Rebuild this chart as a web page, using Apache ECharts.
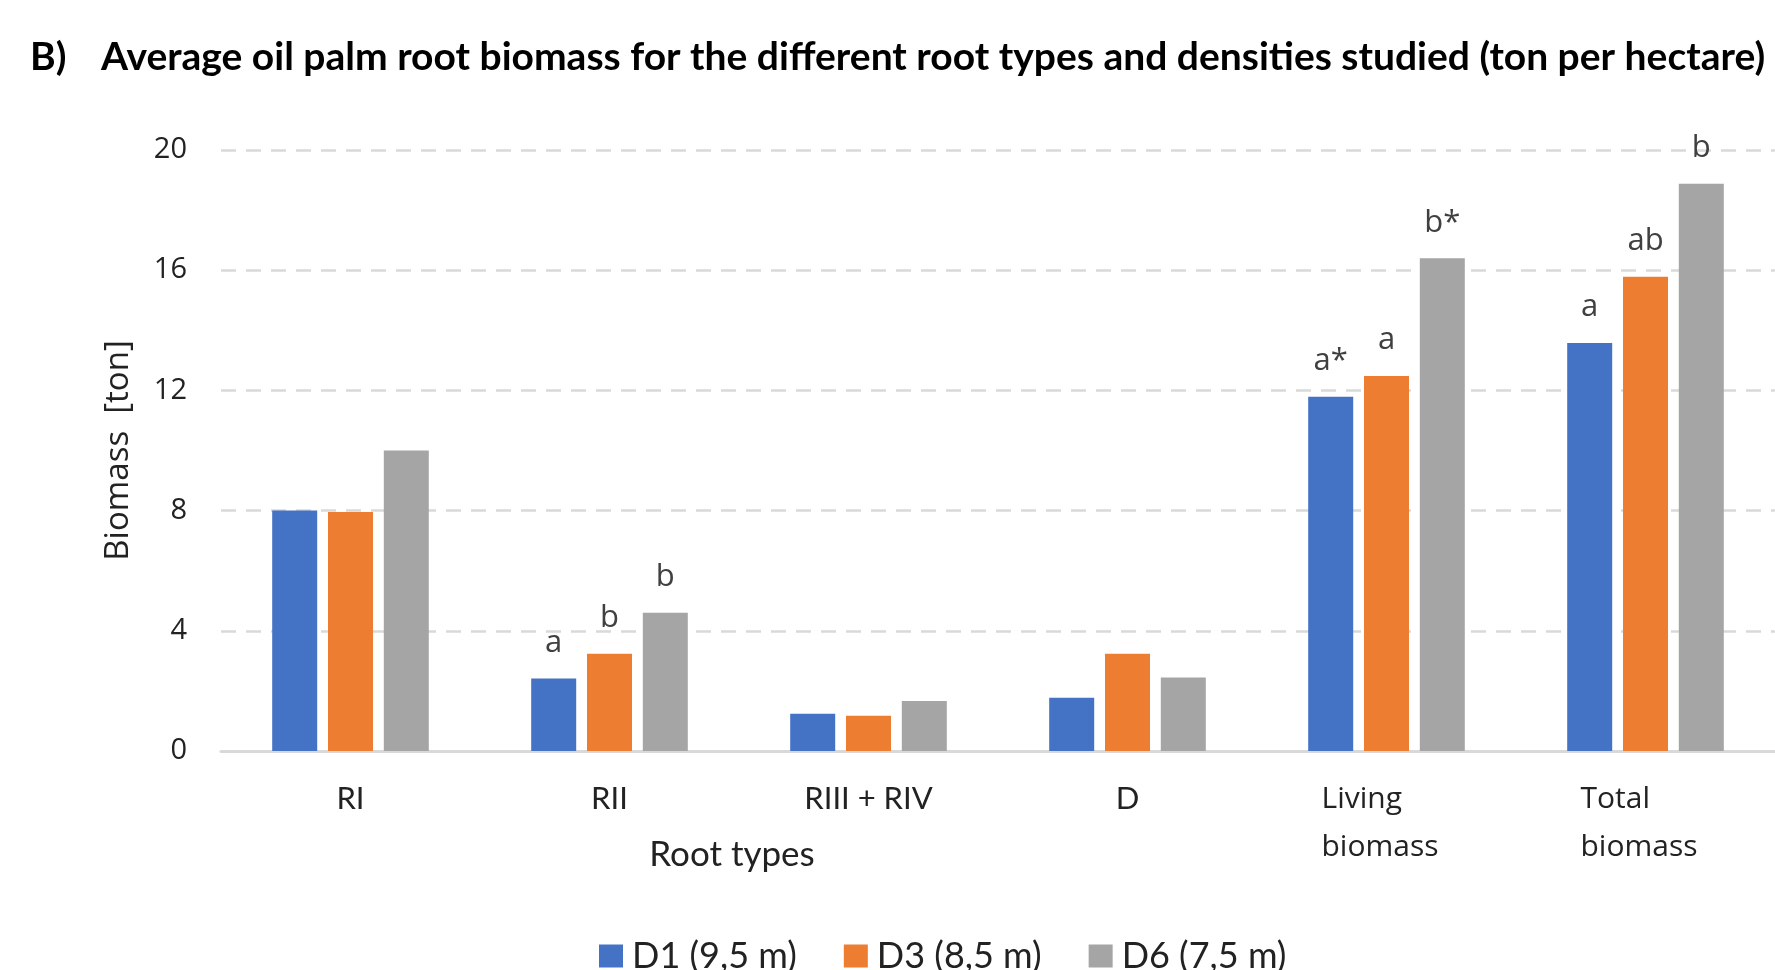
<!DOCTYPE html>
<html>
<head>
<meta charset="utf-8">
<title>Oil palm root biomass</title>
<script src="https://cdn.jsdelivr.net/npm/echarts@6/dist/echarts.min.js"></script>
<style>
  html, body { margin: 0; padding: 0; background: #fff; }
  #chart { width: 1775px; height: 970px; }
</style>
</head>
<body>
<div id="chart"></div>
<script>
// root types on the x axis
const categories = ['RI', 'RII', 'RIII + RIV', 'D', 'Living\nbiomass', 'Total\nbiomass'];
const seriesNames = ['D1 (9,5 m)', 'D3 (8,5 m)', 'D6 (7,5 m)'];

// biomass, ton per hectare
const d1Values = [8.0, 2.41, 1.24, 1.77, 11.79, 13.58];
const d3Values = [7.95, 3.24, 1.17, 3.24, 12.48, 15.78];
const d6Values = [10.0, 4.6, 1.66, 2.45, 16.4, 18.88];

// significance letters above the bars
const d1Letters = ['', 'a', '', '', 'a*', 'a'];
const d3Letters = ['', 'b', '', '', 'a', 'ab'];
const d6Letters = ['', 'b', '', '', 'b*', 'b'];

const yTicks = [0, 4, 8, 12, 16, 20];

const colors = ['#4472C4', '#ED7D31', '#A5A5A5'];
const calibriLike = 'Lato, "Open Sans", sans-serif';
const segoeLike = '"Open Sans", "Noto Sans", sans-serif';

function makeSeries(name, values, letters, color) {
    return {
        name: name,
        type: 'bar',
        barWidth: 45,
        barGap: '24%',
        data: values,
        itemStyle: { color: color },
        label: {
            show: true,
            position: 'top',
            distance: 20,
            fontFamily: segoeLike,
            fontSize: 31,
            color: '#404040',
            formatter: function (p) { return letters[p.dataIndex]; }
        }
    };
}

const chart = echarts.init(document.getElementById('chart'));
chart.setOption({
    animation: false,
    title: {
        left: 25,
        top: 33,
        text: '{b|B)}{t|Average oil palm root biomass for the different root types and densities studied (ton per hectare)}',
        textStyle: {
            rich: {
                b: { fontFamily: calibriLike, fontWeight: 'bold', fontSize: 39, color: '#000', width: 71 },
                t: { fontFamily: calibriLike, fontWeight: 'bold', fontSize: 39, color: '#000' }
            }
        }
    },
    legend: {
        data: seriesNames,
        left: 594,
        top: 933,
        icon: 'rect',
        itemWidth: 24,
        itemHeight: 23,
        itemGap: 47,
        textStyle: {
            fontFamily: calibriLike,
            fontSize: 36,
            color: '#222',
            padding: [0, 0, 0, 4]
        }
    },
    grid: {
        left: 221,
        top: 150,
        width: 1560,
        height: 601,
        containLabel: false
    },
    xAxis: {
        type: 'category',
        data: categories,
        axisLine: { lineStyle: { color: '#D9D9D9', width: 3 } },
        axisTick: { show: false },
        axisLabel: {
            margin: 24,
            interval: 0,
            fontFamily: calibriLike,
            fontSize: 31,
            color: '#222',
            lineHeight: 48,
            formatter: function (v) {
                if (v.indexOf('\n') < 0) return v;
                return v.split('\n').map(function (s) { return '{l|' + s + '}'; }).join('\n');
            },
            rich: {
                l: { width: 130, align: 'left', fontFamily: segoeLike, fontSize: 30, color: '#222', lineHeight: 48 }
            }
        }
    },
    yAxis: {
        type: 'value',
        min: yTicks[0],
        max: yTicks[yTicks.length - 1],
        interval: 4,
        name: 'Biomass  [ton]',
        nameLocation: 'middle',
        nameGap: 86,
        nameTextStyle: { fontFamily: segoeLike, fontSize: 33, color: '#222' },
        axisLine: { show: false },
        axisTick: { show: false },
        axisLabel: {
            margin: 34,
            fontFamily: segoeLike,
            fontSize: 29,
            color: '#222'
        },
        splitLine: {
            lineStyle: { color: '#D9D9D9', width: 2.5, type: [15, 10] }
        }
    },
    graphic: [{
        type: 'text',
        x: 732,
        y: 855,
        style: {
            text: 'Root types',
            fontFamily: calibriLike,
            fontSize: 35,
            fill: '#222',
            align: 'center',
            verticalAlign: 'middle'
        }
    }],
    series: [
        makeSeries(seriesNames[0], d1Values, d1Letters, colors[0]),
        makeSeries(seriesNames[1], d3Values, d3Letters, colors[1]),
        makeSeries(seriesNames[2], d6Values, d6Letters, colors[2])
    ]
});
</script>
</body>
</html>
